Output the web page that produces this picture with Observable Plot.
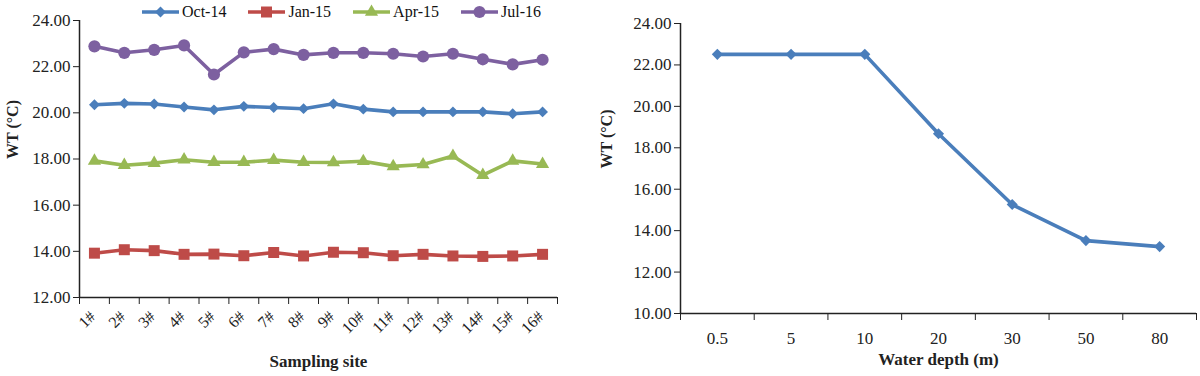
<!DOCTYPE html>
<html><head><meta charset="utf-8">
<script src="https://cdn.jsdelivr.net/npm/d3@7"></script>
<script src="https://cdn.jsdelivr.net/npm/@observablehq/plot@0.6"></script>
<style>
body{margin:0;background:#fff;}
#wrap{position:relative;width:1200px;height:376px;overflow:hidden;font-family:"Liberation Serif","Times New Roman",serif;color:#111;}
#left{position:absolute;left:0;top:0;}
#right{position:absolute;left:600px;top:0;}
#legend{position:absolute;top:2px;left:142px;display:flex;align-items:center;font-size:16px;line-height:20px;}
.item{display:flex;align-items:center;margin-right:22px;}
.item svg{margin-right:3px;}
</style>
</head><body>
<div id="wrap"><div id="left"></div><div id="right"></div><div id="legend"></div></div>
<script>
// ---- data ----
const sites = ["1#","2#","3#","4#","5#","6#","7#","8#","9#","10#","11#","12#","13#","14#","15#","16#"];
const seriesNames = ["Oct-14","Jan-15","Apr-15","Jul-16"];
const oct14 = [20.35,20.41,20.38,20.25,20.13,20.28,20.23,20.18,20.39,20.16,20.04,20.04,20.04,20.04,19.96,20.04];
const jan15 = [13.92,14.07,14.03,13.87,13.88,13.81,13.95,13.80,13.96,13.94,13.81,13.87,13.80,13.78,13.80,13.87];
const apr15 = [17.92,17.73,17.82,17.97,17.86,17.86,17.95,17.86,17.85,17.90,17.68,17.76,18.13,17.30,17.92,17.78];
const jul16 = [22.88,22.60,22.73,22.92,21.66,22.62,22.76,22.51,22.60,22.60,22.56,22.44,22.56,22.32,22.10,22.30];
const leftTicks = [12,14,16,18,20,22,24];

const depths = ["0.5","5","10","20","30","50","80"];
const depthWT = [22.51,22.51,22.51,18.68,15.26,13.52,13.23];
const rightTicks = [10,12,14,16,18,20,22,24];

// ---- styles ----
const colors = ["#4a7ebb","#be4b48","#98b954","#7d60a0"];
const symbols = ["diamond2","square","triangle","circle"];
const radii = [4.9,6.2,4.9,6.1];
const font = "Liberation Serif, Times New Roman, serif";
const axisColor = "#222";

const seriesValues = [oct14, jan15, apr15, jul16];
const rows = seriesValues.map((vals, k) => sites.map((s, i) => ({site: s, xi: i + 0.5, v: vals[i], series: seriesNames[k]})));

const seriesMarks = [];
rows.forEach((r, k) => {
  seriesMarks.push(Plot.line(r, {x: "xi", y: "v", stroke: colors[k], strokeWidth: 3.6}));
  seriesMarks.push(Plot.dot(r, {x: "xi", y: "v", fill: colors[k], stroke: "none", symbol: symbols[k], r: radii[k]}));
});

const left = Plot.plot({
  width: 562, height: 376,
  marginLeft: 79, marginRight: 5, marginTop: 20, marginBottom: 79,
  x: {domain: [0, sites.length], axis: null},
  y: {domain: [12, 24], axis: null},
  style: {fontFamily: font, fontSize: "17px", color: axisColor, background: "transparent", overflow: "visible"},
  marks: [
    Plot.axisY({ticks: leftTicks, tickFormat: d => d.toFixed(2), tickSize: 6, tickPadding: 3, label: null, fontFamily: font, fontSize: 17}),
    Plot.axisX({ticks: d3.range(sites.length + 1), tickFormat: () => "", tickSize: 7, label: null}),
    Plot.ruleX([0], {stroke: axisColor, strokeWidth: 1.5}),
    Plot.ruleY([12], {stroke: axisColor, strokeWidth: 1.5}),
    Plot.text(sites, {x: (d, i) => i + 0.5, frameAnchor: "bottom", rotate: -45, textAnchor: "end", dy: 20, dx: 2, fontSize: 16, fontFamily: font}),
    Plot.text(["Sampling site"], {frameAnchor: "bottom", dy: 69, fontWeight: "bold", fontSize: 17, fontFamily: font}),
    Plot.text(["WT (°C)"], {frameAnchor: "left", rotate: -90, dx: -67, fontWeight: "bold", fontSize: 16, fontFamily: font}),
    ...seriesMarks
  ]
});
document.getElementById("left").appendChild(left);

const depthRows = depths.map((d, i) => ({depth: d, xi: i + 0.5, v: depthWT[i]}));
const right = Plot.plot({
  width: 600, height: 376,
  marginLeft: 80, marginRight: 4, marginTop: 23, marginBottom: 63,
  x: {domain: [0, depths.length], axis: null},
  y: {domain: [10, 24], axis: null},
  style: {fontFamily: font, fontSize: "17px", color: axisColor, background: "transparent", overflow: "visible"},
  marks: [
    Plot.axisY({ticks: rightTicks, tickFormat: d => d.toFixed(2), tickSize: 6, tickPadding: 3, label: null, fontFamily: font, fontSize: 17}),
    Plot.axisX({ticks: d3.range(depths.length + 1), tickFormat: () => "", tickSize: 7, label: null}),
    Plot.ruleX([0], {stroke: axisColor, strokeWidth: 1.5}),
    Plot.ruleY([10], {stroke: axisColor, strokeWidth: 1.5}),
    Plot.text(depths, {x: (d, i) => i + 0.5, frameAnchor: "bottom", dy: 30, fontSize: 17, fontFamily: font}),
    Plot.text(["Water depth (m)"], {frameAnchor: "bottom", dy: 51, fontWeight: "bold", fontSize: 17, fontFamily: font}),
    Plot.text(["WT (°C)"], {frameAnchor: "left", rotate: -90, dx: -74, fontWeight: "bold", fontSize: 16, fontFamily: font}),
    Plot.line(depthRows, {x: "xi", y: "v", stroke: colors[0], strokeWidth: 3.6}),
    Plot.dot(depthRows, {x: "xi", y: "v", fill: colors[0], stroke: "none", symbol: "diamond2", r: 5})
  ]
});
document.getElementById("right").appendChild(right);

// ---- legend ----
const legend = d3.select("#legend");
const symMap = {diamond2: d3.symbolDiamond2, square: d3.symbolSquare, triangle: d3.symbolTriangle, circle: d3.symbolCircle};
seriesNames.forEach((name, k) => {
  const item = legend.append("div").attr("class", "item");
  const svg = item.append("svg").attr("width", 37).attr("height", 16);
  svg.append("line").attr("x1", 0).attr("x2", 37).attr("y1", 8).attr("y2", 8).attr("stroke", colors[k]).attr("stroke-width", 3.5);
  svg.append("path").attr("transform", "translate(18.5,8)")
    .attr("d", d3.symbol(symMap[symbols[k]], Math.PI * radii[k] * radii[k])())
    .attr("fill", colors[k]);
  item.append("span").text(name);
});
</script>
</body></html>
